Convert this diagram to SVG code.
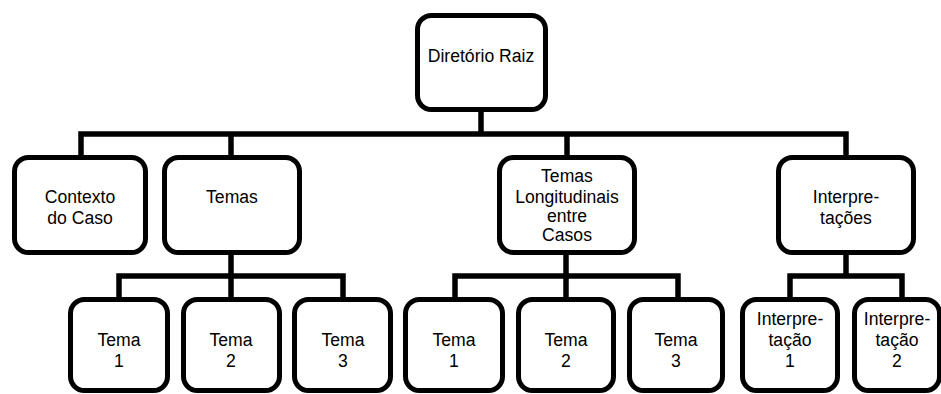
<svg xmlns="http://www.w3.org/2000/svg" width="941" height="394" viewBox="0 0 941 394">
  <style>
    .box { fill: #ffffff; stroke: #000000; stroke-width: 5; }
    .wire { fill: none; stroke: #000000; stroke-width: 5.5; stroke-linejoin: miter; stroke-linecap: butt; }
    text { font-family: "Liberation Sans", Arial, sans-serif; font-size: 17.6px; fill: #000000; text-anchor: middle; }
  </style>
  <rect width="941" height="394" fill="#ffffff"/>

  <!-- connectors -->
  <g id="connectors">
    <path class="wire" d="M481,112 V134"/>
    <path class="wire" d="M81,155 V134 H846 V155"/>
    <path class="wire" d="M231,134 V155"/>
    <path class="wire" d="M567,134 V155"/>
    <!-- Temas children -->
    <path class="wire" d="M231,255 V297"/>
    <path class="wire" d="M119,297 V276 H343 V297"/>
    <!-- Temas Longitudinais children -->
    <path class="wire" d="M566,255 V297"/>
    <path class="wire" d="M455,297 V276 H678 V297"/>
    <!-- Interpretações children -->
    <path class="wire" d="M846,255 V276"/>
    <path class="wire" d="M790,297 V276 H902 V297"/>
  </g>

  <g id="root">
    <rect class="box" x="417.5" y="15.5" width="128" height="94" rx="14"/>
    <text x="481" y="62">Diretório Raiz</text>
  </g>

  <g id="contexto">
    <rect class="box" x="14.5" y="157.5" width="131" height="95" rx="14"/>
    <text x="80" y="203">Contexto</text>
    <text x="80" y="224">do Caso</text>
  </g>

  <g id="temas">
    <rect class="box" x="164.5" y="157.5" width="135" height="95" rx="14"/>
    <text x="232" y="203">Temas</text>
  </g>

  <g id="temas-longitudinais">
    <rect class="box" x="499.5" y="157.5" width="135" height="95" rx="14"/>
    <text x="567" y="182">Temas</text>
    <text x="567" y="202.5">Longitudinais</text>
    <text x="567" y="222">entre</text>
    <text x="567" y="241">Casos</text>
  </g>

  <g id="interpretacoes">
    <rect class="box" x="778.5" y="157.5" width="135" height="95" rx="14"/>
    <text x="846" y="203">Interpre-</text>
    <text x="846" y="224">tações</text>
  </g>

  <g id="temas-tema1">
    <rect class="box" x="70.5" y="299.5" width="97" height="91" rx="14"/>
    <text x="119" y="346">Tema</text>
    <text x="119" y="367">1</text>
  </g>
  <g id="temas-tema2">
    <rect class="box" x="183.5" y="299.5" width="96" height="91" rx="14"/>
    <text x="231" y="346">Tema</text>
    <text x="231" y="367">2</text>
  </g>
  <g id="temas-tema3">
    <rect class="box" x="294.5" y="299.5" width="96" height="91" rx="14"/>
    <text x="343" y="346">Tema</text>
    <text x="343" y="367">3</text>
  </g>

  <g id="long-tema1">
    <rect class="box" x="405.5" y="299.5" width="97" height="91" rx="14"/>
    <text x="454" y="346">Tema</text>
    <text x="454" y="367">1</text>
  </g>
  <g id="long-tema2">
    <rect class="box" x="518.5" y="299.5" width="95" height="91" rx="14"/>
    <text x="566" y="346">Tema</text>
    <text x="566" y="367">2</text>
  </g>
  <g id="long-tema3">
    <rect class="box" x="629.5" y="299.5" width="93" height="91" rx="14"/>
    <text x="676" y="346">Tema</text>
    <text x="676" y="367">3</text>
  </g>

  <g id="interpretacao1">
    <rect class="box" x="742.5" y="299.5" width="95" height="91" rx="14"/>
    <text x="790" y="325">Interpre-</text>
    <text x="790" y="346">tação</text>
    <text x="790" y="367">1</text>
  </g>
  <g id="interpretacao2">
    <rect class="box" x="854.5" y="299.5" width="85" height="91" rx="14"/>
    <text x="897" y="325">Interpre-</text>
    <text x="897" y="346">tação</text>
    <text x="897" y="367">2</text>
  </g>
</svg>
